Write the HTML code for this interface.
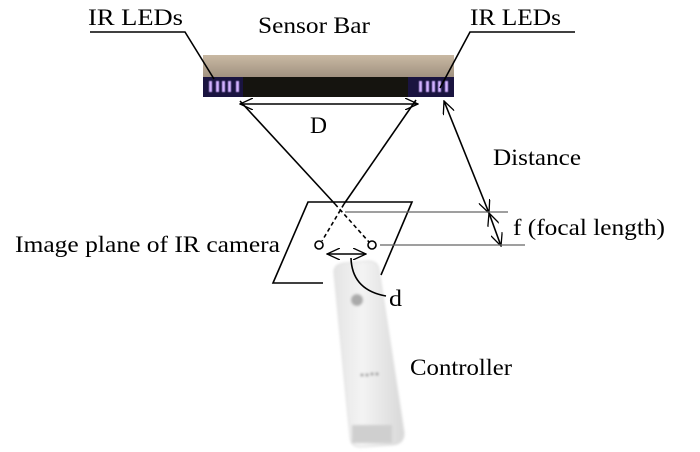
<!DOCTYPE html>
<html><head><meta charset="utf-8"><style>
body{margin:0;background:#fff;width:700px;height:452px;overflow:hidden}
svg{display:block}
text{font-family:"Liberation Serif",serif;font-size:23px;fill:#000}
</style></head><body>
<svg width="700" height="452" viewBox="0 0 700 452">
<defs>
<linearGradient id="bar" x1="0" y1="0" x2="0" y2="1">
<stop offset="0" stop-color="#c9b9a3"/><stop offset="1" stop-color="#9d8e7d"/></linearGradient>
<linearGradient id="wm" x1="0" y1="0" x2="1" y2="0">
<stop offset="0" stop-color="#e4e4e4"/><stop offset="0.4" stop-color="#f4f4f4"/><stop offset="1" stop-color="#d8d8d8"/></linearGradient>
<filter id="bl"><feGaussianBlur stdDeviation="1.2"/></filter>
<filter id="bl2"><feGaussianBlur stdDeviation="0.6"/></filter>
<marker id="ah" markerWidth="14" markerHeight="12" refX="13" refY="6" orient="auto-start-reverse" markerUnits="userSpaceOnUse">
<path d="M0,0 L13,6 L0,12" fill="none" stroke="#000" stroke-width="1.3"/></marker>
</defs>
<rect x="203" y="55" width="251" height="24" fill="url(#bar)"/>
<rect x="203" y="77" width="251" height="20" fill="#15140f"/>
<rect x="203" y="77" width="40" height="20" fill="#1a1440"/>
<rect x="408" y="77" width="46" height="20" fill="#1a1440"/>
<g fill="#d2b0ff" filter="url(#bl2)">
<rect x="209" y="81" width="3" height="11"/><rect x="216" y="81" width="3" height="11"/><rect x="222" y="81" width="3" height="11"/><rect x="228" y="81" width="3" height="11"/><rect x="236" y="81" width="3" height="11"/>
<rect x="419" y="81" width="3" height="11"/><rect x="426" y="81" width="3" height="11"/><rect x="432" y="81" width="3" height="11"/><rect x="438" y="81" width="3" height="11"/><rect x="445" y="81" width="3" height="11"/>
</g>
<g filter="url(#bl)">
<path d="M334,272 Q334,264 345,263 L368,261 Q378,261 379,270 L404,432 Q405,444 392,445 L361,447 Q350,447 350,436 Z" fill="url(#wm)" stroke="#ddd"/>
<circle cx="357" cy="300" r="6" fill="#aaa"/>
<g fill="#888"><circle cx="362" cy="375" r="1.5"/><circle cx="367" cy="375" r="1.5"/><circle cx="372" cy="374" r="1.5"/><circle cx="377" cy="374" r="1.5"/></g>
<rect x="352" y="425" width="40" height="18" fill="#cfcfcf"/>
</g>
<g stroke="#000" fill="none" stroke-width="1.6">
<polyline points="90,32 185,32 214,79"/>
<polyline points="575,32 470,32 440,88"/>
<line x1="240" y1="104" x2="418" y2="104" marker-start="url(#ah)" marker-end="url(#ah)"/>
<line x1="240" y1="101" x2="335" y2="204"/>
<line x1="335" y1="204" x2="369" y2="242" stroke-dasharray="4,3"/>
<line x1="416" y1="100" x2="344" y2="204"/>
<line x1="344" y1="204" x2="322" y2="241" stroke-dasharray="4,3"/>
<polyline points="323,283 273,283 308,202 412,202 381,275"/>
<circle cx="319" cy="245" r="4" fill="#fff"/>
<circle cx="372" cy="245" r="4" fill="#fff"/>
<line x1="327" y1="254" x2="366" y2="254" marker-start="url(#ah)" marker-end="url(#ah)"/>
<path d="M351,258 Q352,290 386,296"/>
<line x1="444" y1="101" x2="489" y2="213" marker-start="url(#ah)" marker-end="url(#ah)"/>
<line x1="489" y1="213" x2="501" y2="246" marker-start="url(#ah)" marker-end="url(#ah)"/>
</g>
<g stroke="#666" stroke-width="1.2">
<line x1="345" y1="212" x2="508" y2="212"/>
<line x1="380" y1="245" x2="525" y2="245"/>
</g>
<text x="88" y="25" textLength="95" lengthAdjust="spacingAndGlyphs">IR LEDs</text>
<text x="258" y="33" textLength="112" lengthAdjust="spacingAndGlyphs">Sensor Bar</text>
<text x="470" y="25" textLength="91" lengthAdjust="spacingAndGlyphs">IR LEDs</text>
<text x="310" y="133" textLength="17" lengthAdjust="spacingAndGlyphs">D</text>
<text x="493" y="165" textLength="88" lengthAdjust="spacingAndGlyphs">Distance</text>
<text x="513" y="235" textLength="152" lengthAdjust="spacingAndGlyphs">f (focal length)</text>
<text x="15" y="252" textLength="265" lengthAdjust="spacingAndGlyphs">Image plane of IR camera</text>
<text x="389" y="306" textLength="13" lengthAdjust="spacingAndGlyphs">d</text>
<text x="410" y="375" textLength="102" lengthAdjust="spacingAndGlyphs">Controller</text>
</svg>
</body></html>
